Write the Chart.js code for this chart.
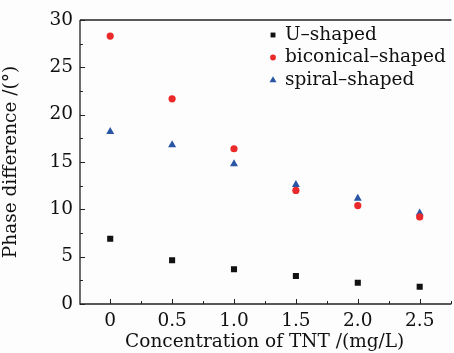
<!DOCTYPE html>
<html><head><meta charset="utf-8">
<script src="https://cdn.jsdelivr.net/npm/chart.js@4.4.0/dist/chart.umd.min.js"></script>
<style>html,body{margin:0;padding:0;background:#fdfdfd;}#wrap{width:454px;height:353px;}</style>
</head><body><div id="wrap"><canvas id="c" width="454" height="353"></canvas></div>
<script>
const concentrations = [0, 0.5, 1.0, 1.5, 2.0, 2.5];
const uShaped = [6.9, 4.62, 3.67, 2.96, 2.25, 1.83];
const biconicalShaped = [28.3, 21.67, 16.4, 12.0, 10.4, 9.2];
const spiralShaped = [18.2, 16.8, 14.8, 12.6, 11.15, 9.6];
const xTickValues = [0, 0.5, 1.0, 1.5, 2.0, 2.5];
const yTickValues = [0, 5, 10, 15, 20, 25, 30];
const xMinorValues = [0.25, 0.75, 1.25, 1.75, 2.25, 2.75];
const yMinorValues = [2.5, 7.5, 12.5, 17.5, 22.5, 27.5];
const seriesNames = ['U\u2013shaped', 'biconical\u2013shaped', 'spiral\u2013shaped'];

const FONT = 'DejaVu Serif';
const FS = 18.5;
const toPts = arr => arr.map((v, i) => ({x: concentrations[i], y: v}));

function drawMarker(ctx, style, r, x, y) {
  if (style === 'rect') { const s = r * Math.SQRT1_2; ctx.rect(x - s, y - s, 2 * s, 2 * s); }
  else if (style === 'circle') { ctx.arc(x, y, r, 0, Math.PI * 2); }
  else if (style === 'triangle') {
    ctx.moveTo(x, y - r); ctx.lineTo(x + r * 0.95, y + r * 0.6); ctx.lineTo(x - r * 0.95, y + r * 0.6); ctx.closePath();
  }
}

const axisPlugin = {
  id: 'axisPlugin',
  afterDatasetsDraw(chart) {
    const {ctx, chartArea: a, scales: {x, y}} = chart;
    ctx.save();
    ctx.strokeStyle = '#222';
    ctx.lineWidth = 1.3;
    ctx.beginPath();
    ctx.moveTo(a.left, a.top); ctx.lineTo(a.left, a.bottom); ctx.lineTo(a.right + 2, a.bottom);
    ctx.moveTo(a.left, a.top); ctx.lineTo(a.right + 2, a.top);
    ctx.stroke();
    ctx.lineWidth = 1;
    ctx.beginPath();
    xTickValues.forEach(v => { const p = Math.round(x.getPixelForValue(v)) + 0.5; ctx.moveTo(p, a.bottom); ctx.lineTo(p, a.bottom - 5); });
    xMinorValues.forEach(v => { const p = Math.round(x.getPixelForValue(v)) + 0.5; ctx.moveTo(p, a.bottom); ctx.lineTo(p, a.bottom - 3); });
    yTickValues.forEach(v => { const p = Math.round(y.getPixelForValue(v)) + 0.5; ctx.moveTo(a.left, p); ctx.lineTo(a.left + 5, p); });
    yMinorValues.forEach(v => { const p = Math.round(y.getPixelForValue(v)) + 0.5; ctx.moveTo(a.left, p); ctx.lineTo(a.left + 3, p); });
    ctx.stroke();
    const ds = chart.data.datasets;
    const lx = 273, ly0 = 35, dy = 22.5;
    ds.forEach((d, i) => {
      const yy = ly0 + i * dy;
      ctx.fillStyle = d.backgroundColor;
      ctx.beginPath();
      drawMarker(ctx, d.pointStyle, d.pointRadius * 0.8, lx, yy);
      ctx.fill();
      ctx.fillStyle = '#111';
      ctx.font = FS + 'px "' + FONT + '"';
      ctx.textBaseline = 'middle';
      ctx.textAlign = 'left';
      ctx.fillText(d.label, 285, yy);
    });
    ctx.restore();
  }
};

new Chart(document.getElementById('c'), {
  type: 'scatter',
  data: {
    datasets: [
      {label: seriesNames[0], data: toPts(uShaped), pointStyle: 'rect', pointRadius: 4.3, backgroundColor: '#111', borderWidth: 0},
      {label: seriesNames[1], data: toPts(biconicalShaped), pointStyle: 'circle', pointRadius: 3.6, backgroundColor: '#ea2a2a', borderWidth: 0},
      {label: seriesNames[2], data: toPts(spiralShaped), pointStyle: 'triangle', pointRadius: 4.6, backgroundColor: '#2a55a5', borderWidth: 0}
    ]
  },
  options: {
    responsive: false,
    animation: false,
    layout: {padding: {top: 20, right: 1, left: 0, bottom: 0}},
    plugins: {legend: {display: false}, tooltip: {enabled: false}},
    scales: {
      x: {
        type: 'linear', min: -0.244, max: 2.74,
        afterBuildTicks: s => { s.ticks = xTickValues.map(v => ({value: v})); },
        afterFit: s => { s.height = 49; },
        grid: {display: false, drawTicks: false},
        border: {display: false},
        ticks: {color: '#111', font: {family: FONT, size: FS}, padding: 6, maxRotation: 0,
          callback: v => v === 0 ? '0' : v.toFixed(1)},
        title: {display: true, text: 'Concentration of TNT /(mg/L)', color: '#111', font: {family: FONT, size: FS}, padding: {top: -5, bottom: 0}}
      },
      y: {
        type: 'linear', min: 0, max: 30,
        afterBuildTicks: s => { s.ticks = yTickValues.map(v => ({value: v})); },
        afterFit: s => { s.width = 80; },
        grid: {display: false, drawTicks: false},
        border: {display: false},
        ticks: {color: '#111', font: {family: FONT, size: FS}, padding: 7},
        title: {display: true, text: 'Phase difference /(\u00b0)', color: '#111', font: {family: FONT, size: FS}, padding: {top: 0, bottom: 6}}
      }
    }
  },
  plugins: [axisPlugin]
});
</script></body></html>
